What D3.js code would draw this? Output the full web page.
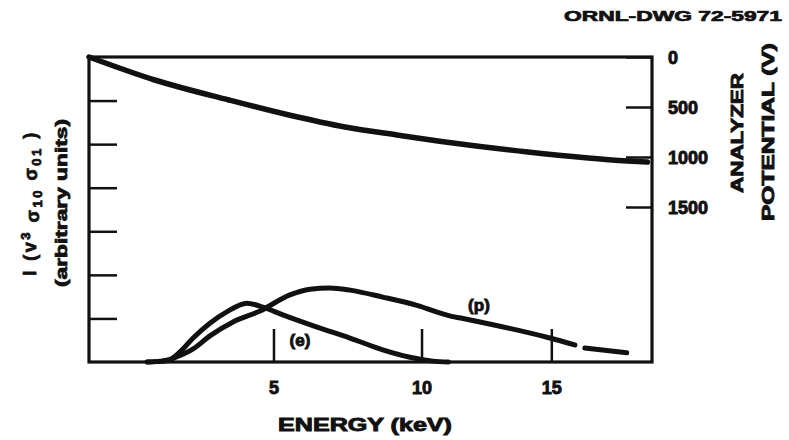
<!DOCTYPE html>
<html>
<head>
<meta charset="utf-8">
<script src="https://cdn.jsdelivr.net/npm/d3@7"></script>
<style>
  html, body { margin: 0; padding: 0; background: #fff; }
  svg { display: block; }
  text { font-family: "Liberation Sans", Arial, sans-serif; font-weight: bold; fill: #111; }
</style>
</head>
<body>
<svg id="chart" width="789" height="440"></svg>
<script>
// Energy axis (keV)
const energyTicks = [5, 10, 15];
const energyTickLabels = ["5", "10", "15"];

// Analyzer potential axis (V), right side, increasing downward
const potentialTicks = [0, 500, 1000, 1500];
const potentialTickLabels = ["0", "500", "1000", "1500"];

// Intensity axis (arbitrary units), left side, unlabeled ticks
const intensityTicks = [1, 2, 3, 4, 5, 6];

// Analyzer potential vs energy
const potentialEnergy = [0.4, 1.74, 3.68, 5.48, 7.31, 9.11, 11.16, 14.06, 18.17, 19.0];
const potentialVolts  = [0, 230, 430, 580, 700, 780, 860, 950, 1040, 1050];

// Electron curve (e)
const electronEnergy    = [1.56, 1.87, 2.11, 2.36, 2.70, 3.15, 3.62, 4.20, 4.68, 5.29, 6.38, 7.48, 8.61, 9.58, 10.42, 11.0];
const electronIntensity = [0, 0.02, 0.06, 0.23, 0.55, 0.89, 1.15, 1.35, 1.26, 1.08, 0.80, 0.55, 0.28, 0.11, 0.02, 0];

// Proton curve (p), measured part and extrapolated tail
const protonEnergy    = [1.56, 1.99, 2.23, 2.70, 3.15, 3.80, 4.59, 5.51, 6.15, 6.80, 7.48, 8.61, 9.83, 11.04, 11.69, 14.94, 15.96];
const protonIntensity = [0, 0.02, 0.10, 0.30, 0.60, 0.92, 1.17, 1.54, 1.67, 1.70, 1.65, 1.49, 1.30, 1.06, 0.98, 0.55, 0.39];
const protonTailEnergy    = [16.37, 18.12];
const protonTailIntensity = [0.32, 0.21];

const svg = d3.select("#chart");
const frame = { left: 89, right: 652, top: 57, bottom: 362 };

const x = d3.scalePow().exponent(0.75).domain([0.4, 19.2]).range([frame.left, frame.right]);
const yI = d3.scaleLinear().domain([0, 7]).range([frame.bottom, frame.top]);
const yV = d3.scaleLinear().domain([0, 3050]).range([frame.top, frame.bottom]);

const ink = "#111";

// Axes with inward ticks
const gx = svg.append("g")
  .attr("transform", `translate(0,${frame.bottom})`)
  .call(d3.axisBottom(x).tickValues(energyTicks)
    .tickFormat((d, i) => energyTickLabels[i]).tickSize(-33).tickPadding(19));

const gl = svg.append("g")
  .attr("transform", `translate(${frame.left},0)`)
  .call(d3.axisLeft(yI).tickValues(intensityTicks).tickFormat("").tickSize(-28));

const gr = svg.append("g")
  .attr("transform", `translate(${frame.right},0)`)
  .call(d3.axisRight(yV).tickValues(potentialTicks)
    .tickFormat((d, i) => potentialTickLabels[i]).tickSize(-26).tickPadding(16));

[gx, gl, gr].forEach(g => {
  g.select(".domain").remove();
  g.selectAll(".tick line").attr("stroke", ink).attr("stroke-width", 2.5);
  g.selectAll(".tick text")
    .attr("font-size", 18)
    .attr("font-family", "Liberation Sans, Arial, sans-serif")
    .attr("font-weight", "bold")
    .attr("fill", ink).attr("stroke", ink).attr("stroke-width", 0.9);
});
gr.selectAll(".tick text").attr("dy", "0.36em");

// Plot frame
svg.append("rect")
  .attr("x", frame.left).attr("y", frame.top)
  .attr("width", frame.right - frame.left).attr("height", frame.bottom - frame.top)
  .attr("fill", "none").attr("stroke", ink).attr("stroke-width", 3.2);

const lineI = d3.line().x(d => x(d[0])).y(d => yI(d[1])).curve(d3.curveMonotoneX);
const lineV = d3.line().x(d => x(d[0])).y(d => yV(d[1])).curve(d3.curveMonotoneX);
const zip = (a, b) => a.map((v, i) => [v, b[i]]);

function drawCurve(path, data, width) {
  svg.append("path")
    .datum(data)
    .attr("d", path)
    .attr("fill", "none")
    .attr("stroke", ink)
    .attr("stroke-width", width)
    .attr("stroke-linecap", "round")
    .attr("stroke-linejoin", "round");
}

drawCurve(lineV, zip(potentialEnergy, potentialVolts), 5.5);
drawCurve(lineI, zip(electronEnergy, electronIntensity), 5);
drawCurve(lineI, zip(protonEnergy, protonIntensity), 5);
drawCurve(lineI, zip(protonTailEnergy, protonTailIntensity), 5);

// Curve labels
svg.append("text").attr("x", x(5.83)).attr("y", yI(0.5))
  .attr("text-anchor", "middle").attr("dy", "0.35em").attr("font-size", 17)
  .attr("stroke", ink).attr("stroke-width", 0.9).text("(e)");
svg.append("text").attr("x", x(12.15)).attr("y", yI(1.31))
  .attr("text-anchor", "middle").attr("dy", "0.35em").attr("font-size", 17)
  .attr("stroke", ink).attr("stroke-width", 0.9).text("(p)");

// Axis titles
svg.append("text").attr("x", 365).attr("y", 425).attr("dy", "0.35em")
  .attr("text-anchor", "middle").attr("font-size", 18)
  .attr("stroke", ink).attr("stroke-width", 0.9)
  .attr("textLength", 174).attr("lengthAdjust", "spacingAndGlyphs")
  .text("ENERGY (keV)");

const rightTitle = svg.append("g").attr("transform", "translate(752,135) rotate(-90)");
rightTitle.append("text").attr("x", 2).attr("y", -15).attr("dy", "0.35em")
  .attr("text-anchor", "middle").attr("font-size", 17)
  .attr("stroke", ink).attr("stroke-width", 0.9)
  .attr("textLength", 120).attr("lengthAdjust", "spacingAndGlyphs")
  .text("ANALYZER");
rightTitle.append("text").attr("x", 3).attr("y", 16).attr("dy", "0.35em")
  .attr("text-anchor", "middle").attr("font-size", 17)
  .attr("stroke", ink).attr("stroke-width", 0.9)
  .attr("textLength", 178).attr("lengthAdjust", "spacingAndGlyphs")
  .text("POTENTIAL (V)");

const leftTitle = svg.append("g").attr("transform", "translate(45,203) rotate(-90)");
const t1 = leftTitle.append("text").attr("x", 0).attr("y", -15).attr("dy", "0.35em")
  .attr("text-anchor", "middle").attr("font-size", 18)
  .attr("stroke", ink).attr("stroke-width", 0.8)
  .attr("letter-spacing", 2.5);
t1.append("tspan").text("I  (v");
t1.append("tspan").attr("dy", "-0.45em").attr("font-size", 13).text("3");
t1.append("tspan").attr("dy", "0.45em").text(" σ");
t1.append("tspan").attr("dy", "0.3em").attr("font-size", 13).text("10");
t1.append("tspan").attr("dy", "-0.3em").text(" σ");
t1.append("tspan").attr("dy", "0.3em").attr("font-size", 13).text("01");
t1.append("tspan").attr("dy", "-0.3em").text(" )");
leftTitle.append("text").attr("x", 0).attr("y", 16).attr("dy", "0.35em")
  .attr("text-anchor", "middle").attr("font-size", 16)
  .attr("stroke", ink).attr("stroke-width", 0.8)
  .attr("textLength", 168).attr("lengthAdjust", "spacingAndGlyphs")
  .text("(arbitrary units)");

// Drawing number
svg.append("text").attr("x", 782).attr("y", 16).attr("dy", "0.35em")
  .attr("text-anchor", "end").attr("font-size", 14)
  .attr("stroke", ink).attr("stroke-width", 0.7)
  .attr("textLength", 218).attr("lengthAdjust", "spacingAndGlyphs")
  .text("ORNL-DWG 72-5971");
</script>
</body>
</html>
